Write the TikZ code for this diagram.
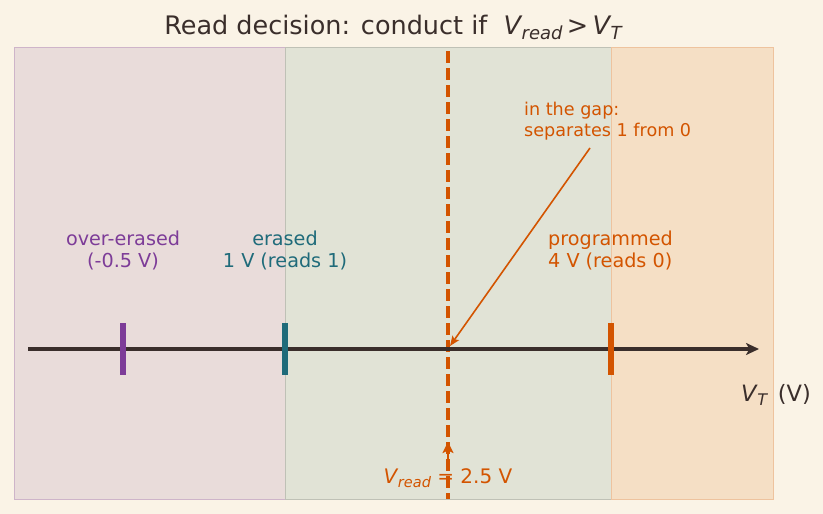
\documentclass[tikz,border=0pt]{standalone}
\usepackage{fontspec}
\setmainfont{DejaVu Sans}
\usetikzlibrary{arrows.meta}
\definecolor{bg}{HTML}{FAF3E6}
\definecolor{regA}{HTML}{E9DCDA}
\definecolor{regB}{HTML}{E1E3D6}
\definecolor{regC}{HTML}{F5DFC5}
\definecolor{purp}{HTML}{7D3C98}
\definecolor{teal}{HTML}{1F6B7A}
\definecolor{orng}{HTML}{D35400}
\definecolor{dark}{HTML}{3A2E2B}
\newcommand\vsym[2]{{\itshape V}\kern0.03em\raisebox{-0.35ex}{\fontsize{#2}{#2}\selectfont\itshape #1}}
\tikzset{
  lbl/.style={inner sep=0pt, align=center, font=\fontsize{19.2}{22}\selectfont},
  note/.style={inner sep=0pt, align=left, font=\fontsize{17.6}{21}\selectfont, text=orng},
  tickmark/.style={line width=5.5pt},
}
\begin{document}
\begin{tikzpicture}[x=1pt,y=-1pt]
\useasboundingbox (0,0) rectangle (823,514);
\fill[bg] (0,0) rectangle (823,514);
% regions
\path[fill=regA, draw=purp!25!regA, line width=0.8pt] (14,47) rectangle (285,499);
\path[fill=regB, draw=black!15!regB, line width=0.8pt] (285,47) rectangle (611,499);
\path[fill=regC, draw=orng!20!regC, line width=0.8pt] (611,47) rectangle (773,499);
% title
\node[inner sep=0pt, text=dark, font=\fontsize{25.5}{30}\selectfont] (title) at (393,27)
  {Read decision: conduct if\ \ \vsym{read}{18}\,>\,\vsym{T}{18}};
% read threshold dashed line
\coordinate (dtop) at (448,51);
\coordinate (dbot) at (448,499);
\draw[orng, line width=3.6pt, dash pattern=on 12pt off 5pt] (dtop) -- (dbot);
% axis
\coordinate (ax0) at (28,349);
\coordinate (ax1) at (759,349);
\draw[dark, line width=3.2pt, -{Stealth[length=13pt,width=12pt,inset=3.5pt]}] (ax0) -- (ax1);
% ticks
\coordinate (t1a) at (123,323); \coordinate (t1b) at (123,375);
\coordinate (t2a) at (285,323); \coordinate (t2b) at (285,375);
\coordinate (t3a) at (611,323); \coordinate (t3b) at (611,375);
\draw[tickmark, purp] (t1a) -- (t1b);
\draw[tickmark, teal] (t2a) -- (t2b);
\draw[tickmark, orng] (t3a) -- (t3b);
% labels
\node[lbl, text=purp] (over) at (123,250) {over-erased\\(-0.5 V)};
\node[lbl, text=teal] (eras) at (285,250) {erased\\1 V (reads 1)};
\node[lbl, text=orng, anchor=west, align=left] (prog) at (548,250) {programmed\\4 V (reads 0)};
\node[note, anchor=west] (gap) at (524,121.5) {in the gap:\\separates 1 from 0};
\coordinate (gaptail) at (590,148);
\coordinate (gaphead) at (450,346);
\draw[orng, line width=1.6pt, -{Stealth[length=10pt,width=8pt,inset=2pt]}] (gaptail) -- (gaphead);
% bottom label
\node[inner sep=0pt, text=orng, font=\fontsize{20}{24}\selectfont] (vread) at (448,478) {\vsym{read}{14.5} = 2.5 V};
\coordinate (vtail) at (448,467);
\coordinate (vhead) at (448,442);
\draw[orng, line width=2.2pt, -{Stealth[length=11pt,width=11pt,inset=2.5pt]}] (vtail) -- (vhead);
% axis label
\node[inner sep=0pt, anchor=west, text=dark, font=\fontsize{22.5}{26}\selectfont] (vt) at (741,395) {\vsym{T}{16}\ \,(V)};
\end{tikzpicture}
\end{document}
